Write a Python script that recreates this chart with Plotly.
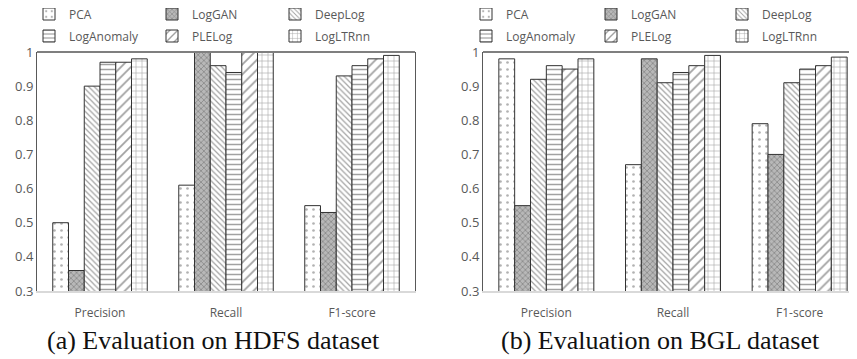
import plotly.graph_objects as go
from plotly.subplots import make_subplots

categories = ["Precision", "Recall", "F1-score"]
methods = ["PCA", "LogGAN", "DeepLog", "LogAnomaly", "PLELog", "LogLTRnn"]

hdfs_pca = [0.50, 0.61, 0.55]
hdfs_loggan = [0.36, 1.00, 0.53]
hdfs_deeplog = [0.90, 0.96, 0.93]
hdfs_loganomaly = [0.97, 0.94, 0.96]
hdfs_plelog = [0.97, 1.00, 0.98]
hdfs_logltrnn = [0.98, 1.00, 0.99]

bgl_pca = [0.98, 0.67, 0.79]
bgl_loggan = [0.55, 0.98, 0.70]
bgl_deeplog = [0.92, 0.91, 0.91]
bgl_loganomaly = [0.96, 0.94, 0.95]
bgl_plelog = [0.95, 0.96, 0.96]
bgl_logltrnn = [0.98, 0.99, 0.985]

y_ticks = [0.3, 0.4, 0.5, 0.6, 0.7, 0.8, 0.9, 1.0]
y_tick_labels = ["0.3", "0.4", "0.5", "0.6", "0.7", "0.8", "0.9", "1"]

hdfs = [hdfs_pca, hdfs_loggan, hdfs_deeplog, hdfs_loganomaly, hdfs_plelog, hdfs_logltrnn]
bgl = [bgl_pca, bgl_loggan, bgl_deeplog, bgl_loganomaly, bgl_plelog, bgl_logltrnn]

patterns = [
    dict(shape=".", fgcolor="#666666", bgcolor="white", size=7, solidity=0.12),
    dict(shape="x", fgcolor="#555555", bgcolor="#b8b8b8", size=4, solidity=0.35),
    dict(shape="\\", fgcolor="#444444", bgcolor="white", size=4, solidity=0.3),
    dict(shape="-", fgcolor="#444444", bgcolor="white", size=5, solidity=0.3),
    dict(shape="/", fgcolor="#444444", bgcolor="white", size=7, solidity=0.25),
    dict(shape="+", fgcolor="#555555", bgcolor="white", size=6, solidity=0.2),
]

W, H = 857, 359
OX, OY = 8, 8  # page body margin offset


def px(x):
    return (x - OX) / W


def py(y):
    return 1 - (y - OY) / H


fig = make_subplots(rows=1, cols=2)

leg_ids = ["legend"] + ["legend%d" % k for k in range(2, 13)]

for i, m in enumerate(methods):
    fig.add_trace(go.Bar(x=categories, y=hdfs[i], name=m, marker=dict(
        color="white", pattern=patterns[i], line=dict(color="#333333", width=1)),
        legend=leg_ids[i]), row=1, col=1)
for i, m in enumerate(methods):
    fig.add_trace(go.Bar(x=categories, y=bgl[i], name=m, marker=dict(
        color="white", pattern=patterns[i], line=dict(color="#333333", width=1)),
        legend=leg_ids[6 + i]), row=1, col=2)

ydom = [py(291), py(52)]
x1dom = [px(37), px(415)]
x2dom = [px(483), px(863)]

axis_font = dict(family="Open Sans, Liberation Sans, sans-serif", size=12, color="#595959")
for ax, dom in (("xaxis", x1dom), ("xaxis2", x2dom)):
    fig.layout[ax].update(domain=dom, showline=True, linecolor="#d9d9d9", linewidth=2,
                          ticks="", tickfont=axis_font, showgrid=False, ticklabelstandoff=10)
for ax in ("yaxis", "yaxis2"):
    fig.layout[ax].update(domain=ydom, range=[0.3, 1.0], tickvals=y_ticks, ticktext=y_tick_labels,
                          showline=True, linecolor="#595959", linewidth=1, mirror=True,
                          showgrid=False, ticks="", tickfont=dict(family="Open Sans, Liberation Sans, sans-serif",
                                                                  size=13, color="#595959"),
                          zeroline=False)

for xr, yr in (("x domain", "y domain"), ("x2 domain", "y2 domain")):
    fig.add_shape(type="line", xref=xr, yref=yr, x0=0, x1=1, y0=1, y1=1,
                  line=dict(color="#7f7f7f", width=2))

leg_font = dict(family="Open Sans, Liberation Sans, sans-serif", size=12, color="#595959")
# legend text start positions in the reference (pixels)
left_text = [65, 188, 311]
right_text = [502, 627, 758]
rows_y = [14, 36]

legends = {}
for panel, cols in ((0, left_text), (1, right_text)):
    for i in range(6):
        lid = leg_ids[panel * 6 + i]
        cx = cols[i % 3] - 36
        ry = rows_y[i // 3]
        legends[lid] = dict(x=px(cx), y=py(ry), xanchor="left", yanchor="middle",
                            font=leg_font, bgcolor="rgba(0,0,0,0)", borderwidth=0,
                            itemwidth=30, orientation="h")

fig.update_layout(
    width=W, height=H,
    margin=dict(l=0, r=0, t=0, b=0, autoexpand=False),
    plot_bgcolor="white", paper_bgcolor="white",
    barmode="group", bargap=0.25, bargroupgap=0,
    showlegend=True,
    **legends,
)

cap_font = dict(family="Liberation Serif, serif", size=26, color="#111111")
fig.add_annotation(text="(a) Evaluation on HDFS dataset", x=px(213), y=py(340),
                   xref="paper", yref="paper", xanchor="center", yanchor="middle",
                   showarrow=False, font=cap_font)
fig.add_annotation(text="(b) Evaluation on BGL dataset", x=px(660), y=py(340),
                   xref="paper", yref="paper", xanchor="center", yanchor="middle",
                   showarrow=False, font=cap_font)

fig.write_html("out.html")
